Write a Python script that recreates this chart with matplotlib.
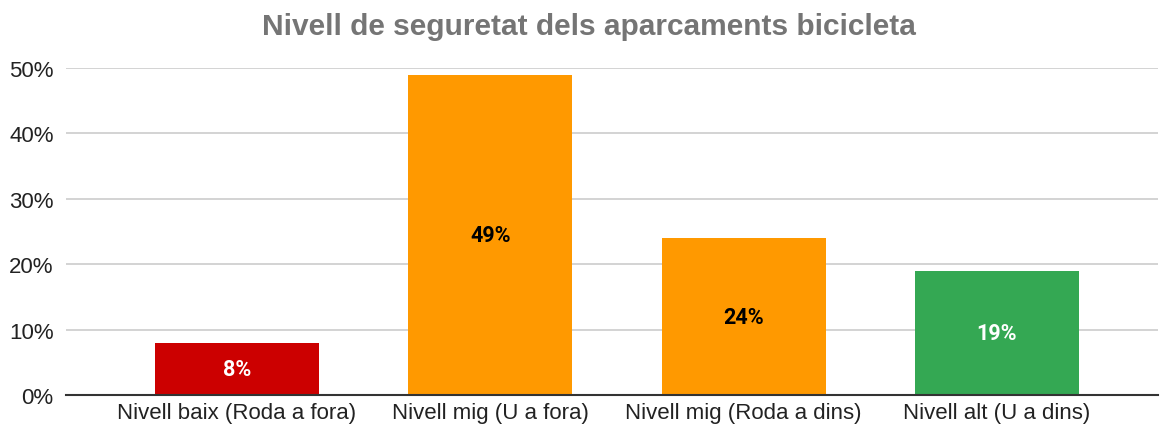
import matplotlib.pyplot as plt
from matplotlib.ticker import PercentFormatter

categories = ["Nivell baix (Roda a fora)", "Nivell mig (U a fora)",
              "Nivell mig (Roda a dins)", "Nivell alt (U a dins)"]
values = [8, 49, 24, 19]
colors = ["#cc0000", "#ff9900", "#ff9900", "#34a853"]
label_colors = ["white", "black", "black", "white"]

fig = plt.figure(figsize=(11.61, 4.31), dpi=100, facecolor="white")
ax = fig.add_axes([66 / 1161, 35 / 431, 1092 / 1161, 327 / 431])

x = range(len(categories))
bars = ax.bar(x, values, width=0.647, color=colors, zorder=3)

for b, v, c in zip(bars, values, label_colors):
    ax.text(b.get_x() + b.get_width() / 2, v / 2, f"{v}%", ha="center", va="center",
            color=c, fontsize=15.5, fontweight="bold", family="Roboto", zorder=4)

ax.set_xlim(-0.675, 3.636)
ax.set_ylim(0, 50)
ax.set_yticks(range(0, 51, 10))
ax.yaxis.set_major_formatter(PercentFormatter(decimals=0))
ax.set_xticks(list(x))
ax.set_xticklabels(categories)

ax.grid(axis="y", color="#cccccc", linewidth=1.2, zorder=0)
for s in ["top", "right", "left"]:
    ax.spines[s].set_visible(False)
ax.spines["bottom"].set_color("#333333")
ax.spines["bottom"].set_linewidth(1.5)
ax.spines["bottom"].set_zorder(5)

ax.tick_params(axis="both", length=0, labelsize=16, labelcolor="#222222")
ax.tick_params(axis="y", pad=9)
ax.tick_params(axis="x", pad=5)
for lbl in ax.get_xticklabels() + ax.get_yticklabels():
    lbl.set_family("Liberation Sans")

fig.text(589 / 1161, 1 - 27 / 431, "Nivell de seguretat dels aparcaments bicicleta",
         ha="center", va="center", fontsize=21.5, fontweight="bold",
         color="#757575", family="Liberation Sans")

fig.savefig("out.png", dpi=100, facecolor="white")
